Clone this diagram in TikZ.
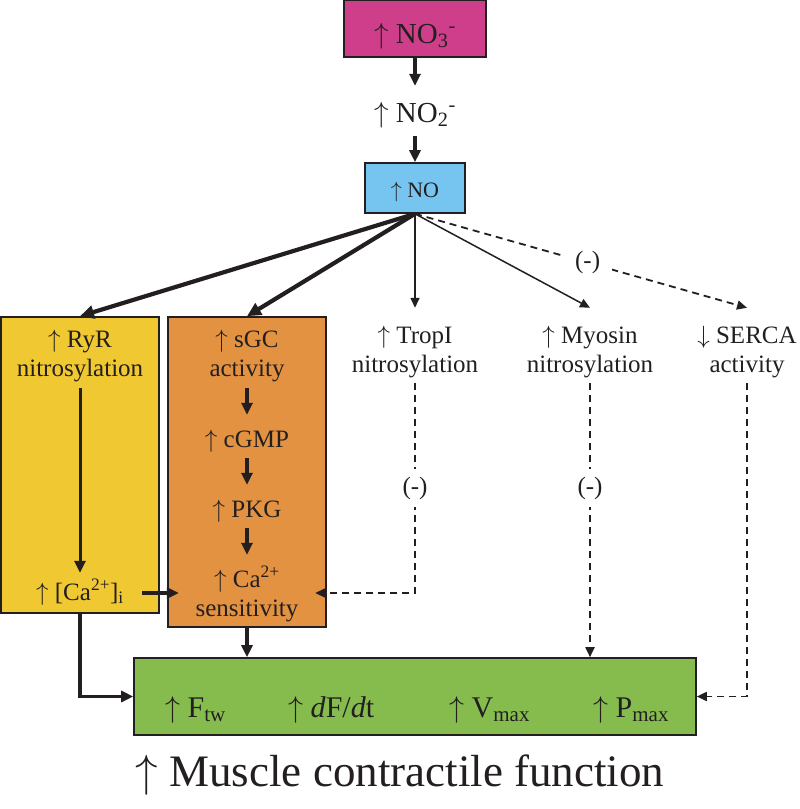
\RequirePackage{fix-cm}
\documentclass[tikz,border=0pt]{standalone}
\usepackage{fontspec}
\setmainfont{Liberation Serif}
\usetikzlibrary{arrows.meta}
\definecolor{ink}{RGB}{35,31,32}
\definecolor{cmag}{RGB}{207,62,138}
\definecolor{cblue}{RGB}{118,197,240}
\definecolor{cyellow}{RGB}{240,200,50}
\definecolor{corange}{RGB}{226,146,64}
\definecolor{cgreen}{RGB}{134,188,78}
\newcommand{\myup}{$\uparrow$}
\newcommand{\mydown}{$\downarrow$}
\begin{document}
\begin{tikzpicture}[x=1pt,y=-1pt,
  every node/.style={text=ink, inner sep=0pt},
  box/.style={draw=ink, line width=1.6pt},
  bigtxt/.style={font=\fontsize{29}{34}\selectfont},
  midtxt/.style={font=\fontsize{25}{29}\selectfont},
  grtxt/.style={font=\fontsize{30}{36}\selectfont, anchor=base west},
  thickarr/.style={draw=ink, line width=4.2pt, -{Triangle[length=14pt,width=13pt]}},
  medarr/.style={draw=ink, line width=3.4pt, -{Triangle[length=12pt,width=11pt]}},
  thinarr/.style={draw=ink, line width=1.5pt, -{Triangle[length=10pt,width=9pt]}},
  dasharr/.style={draw=ink, line width=1.8pt, dash pattern=on 7pt off 5pt, -{Triangle[length=10pt,width=9pt]}},
  minus/.style={midtxt, fill=white, inner xsep=12pt, inner ysep=8pt},
]
\useasboundingbox (0,0) rectangle (800,809);

% top chain
\node[box, fill=cmag, minimum width=142pt, minimum height=57pt, bigtxt, text height=29pt, text depth=0pt] (no3) at (415,28.5) {\myup{} NO\textsubscript{3}\textsuperscript{-}};
\node[bigtxt, anchor=base, text height=36pt, text depth=14pt] (no2) at (415,122) {\myup{} NO\textsubscript{2}\textsuperscript{-}};
\node[box, fill=cblue, minimum width=100pt, minimum height=50pt, font=\fontsize{22}{26}\selectfont, text height=18pt, text depth=0pt] (no) at (415,188) {\myup{} NO};

% boxes
\node[box, fill=cyellow, minimum width=158pt, minimum height=296pt] (ryrbox) at (80,465) {};
\node[box, fill=corange, minimum width=158pt, minimum height=310pt] (sgcbox) at (247,472) {};
\node[box, fill=cgreen, minimum width=562pt, minimum height=77pt] (green) at (415,696.5) {};

% RyR box texts
\node[midtxt, anchor=base] (ryr) at (80,347) {\myup{} RyR};
\node[midtxt, anchor=base, text depth=12pt] (ryrb) at (80,376) {nitrosylation};
\node[midtxt, anchor=base, text height=27pt, text depth=13pt, minimum width=124pt] (ca) at (80,600) {\myup{} [Ca\textsuperscript{2+}]\textsubscript{i}};

% sGC box texts
\node[midtxt, anchor=base] (sgc) at (247,347) {\myup{} sGC};
\node[midtxt, anchor=base, text depth=12pt] (sgcb) at (247,376) {activity};
\node[midtxt, anchor=base, text height=32pt, text depth=11pt] (cgmp) at (247,447) {\myup{} cGMP};
\node[midtxt, anchor=base, text height=32pt, text depth=11pt] (pkg) at (247,517) {\myup{} PKG};
\node[midtxt, anchor=base, text height=32pt, text depth=12pt, minimum width=136pt] (casens) at (247,587) {\myup{} Ca\textsuperscript{2+}};
\node[midtxt, anchor=base] (casensb) at (247,616) {sensitivity};

% right labels
\node[midtxt, anchor=base, text height=35pt] (tropi) at (415,343) {\myup{} TropI};
\node[midtxt, anchor=base, text depth=11pt] (tropib) at (415,372) {nitrosylation};
\node[midtxt, anchor=base, text height=35pt] (myo) at (590,343) {\myup{} Myosin};
\node[midtxt, anchor=base, text depth=11pt] (myob) at (590,372) {nitrosylation};
\node[midtxt, anchor=base, text height=35pt] (serca) at (747,343) {\mydown{} SERCA};
\node[midtxt, anchor=base, text depth=11pt] (sercab) at (747,372) {activity};

% green box texts
\node[grtxt] (ftw) at (165,717) {\myup{} F\textsubscript{tw}};
\node[grtxt] (dfdt) at (288,717) {\myup{} \textit{d}F/\textit{d}t};
\node[grtxt] (vmax) at (449,717) {\myup{} V\textsubscript{max}};
\node[grtxt] (pmax) at (593,717) {\myup{} P\textsubscript{max}};

\node[font=\fontsize{45}{54}\selectfont, anchor=base] (muscle) at (400,786) {\myup{} Muscle contractile function};

% connectors
\draw[medarr] (no3.south) -- (no2.north);
\draw[medarr] (no2.south) -- (no.north);
\draw[thickarr] (no.south) -- (ryrbox.north);
\draw[thickarr] (no.south) -- (sgcbox.north);
\draw[thinarr] (no.south) -- (tropi.north);
\draw[thinarr] (no.south) -- (myo.north);
\draw[dasharr] (no.south) -- node[minus, pos=0.52] (m1) {(-)} (serca.north);

\draw[medarr, line width=3pt] (ryrb.south) -- (ca.north);
\draw[medarr] (sgcb.south) -- (cgmp.north);
\draw[medarr] (cgmp.south) -- (pkg.north);
\draw[medarr] (pkg.south) -- (casens.north);
\draw[medarr] (ca.east) -- (ca.east -| casens.west);
\draw[dasharr] (tropib.south) |- node[minus, pos=0.25] (m2) {(-)} (ca.east -| casens.east);
\draw[dasharr] (myob.south) -- node[minus, pos=0.383] (m3) {(-)} (myob.south |- green.north);
\draw[dasharr] (sercab.south) |- (green.east);
\draw[medarr] (ryrbox.south) |- (green.west);
\draw[medarr] (sgcbox.south) -- (sgcbox.south |- green.north);
\end{tikzpicture}
\end{document}
